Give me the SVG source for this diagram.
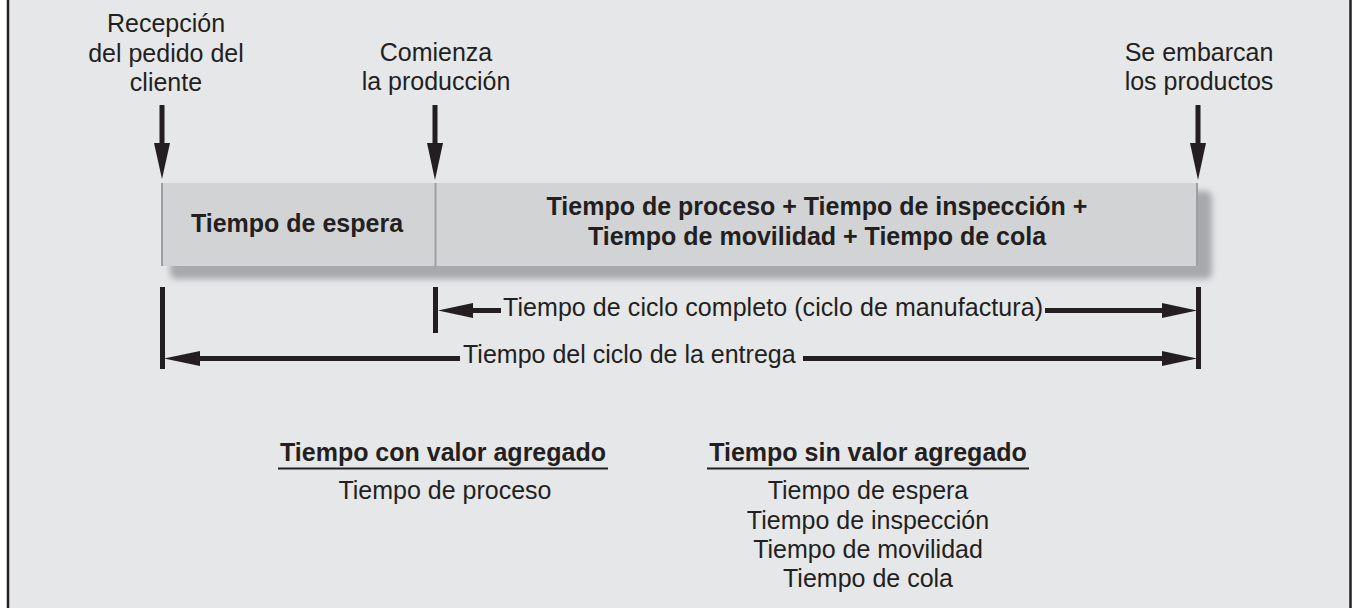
<svg xmlns="http://www.w3.org/2000/svg" width="1353" height="608" viewBox="0 0 1353 608">
<defs>
<style>
text{font-family:"Liberation Sans",Arial,sans-serif;font-size:25px;fill:#231f20}
.b{font-weight:bold}
.m{text-anchor:middle}
.shaft{stroke:#231f20;stroke-width:5;fill:none}
.div{stroke:#9d9fa2;stroke-width:2}
.head{fill:#231f20}
</style>
<filter id="sh" x="-5%" y="-30%" width="110%" height="160%">
<feGaussianBlur stdDeviation="3"/>
</filter>
</defs>
<rect x="0" y="0" width="1353" height="608" fill="#ffffff"/>
<rect x="8" y="0" width="1342" height="608" fill="#e6e7e8"/>
<line x1="8" y1="0" x2="8" y2="608" stroke="#231f20" stroke-width="2.5"/>
<line x1="1350.5" y1="0" x2="1350.5" y2="608" stroke="#231f20" stroke-width="2.5"/>

<g id="bar">
<rect x="170" y="191" width="1042" height="88" rx="6" fill="#a7a9ac" filter="url(#sh)"/>
<rect x="162" y="183" width="1036" height="83" fill="#d1d3d4"/>
<line class="div" x1="162" y1="183" x2="162" y2="266"/>
<line class="div" x1="435.5" y1="183" x2="435.5" y2="266"/>
<line class="div" x1="1197" y1="183" x2="1197" y2="266"/>
</g>
<g id="espera">
<text class="b m" x="297" y="232">Tiempo de espera</text>
</g>
<g id="proceso">
<text class="b m" x="817" y="215">Tiempo de proceso + Tiempo de inspección +</text>
<text class="b m" x="817" y="245">Tiempo de movilidad + Tiempo de cola</text>
</g>

<g id="label-recepcion">
<text class="m" x="166" y="32">Recepción</text>
<text class="m" x="166" y="62">del pedido del</text>
<text class="m" x="166" y="91">cliente</text>
</g>
<g id="label-comienza">
<text class="m" x="436" y="61">Comienza</text>
<text class="m" x="436" y="90">la producción</text>
</g>
<g id="label-embarcan">
<text class="m" x="1199" y="61">Se embarcan</text>
<text class="m" x="1199" y="90">los productos</text>
</g>

<g id="connectors">
<line class="shaft" x1="162" y1="105" x2="162" y2="146"/>
<polygon class="head" points="154,143 170,143 162,179"/>
<line class="shaft" x1="435" y1="105" x2="435" y2="146"/>
<polygon class="head" points="427,143 443,143 435,180"/>
<line class="shaft" x1="1198" y1="105" x2="1198" y2="146"/>
<polygon class="head" points="1190,143 1206,143 1198,180"/>

<line class="shaft" x1="162.5" y1="287" x2="162.5" y2="369"/>
<line class="shaft" x1="435.5" y1="287" x2="435.5" y2="333"/>
<line class="shaft" x1="1198.5" y1="287" x2="1198.5" y2="369"/>

<line class="shaft" x1="470" y1="310.5" x2="501" y2="310.5"/>
<polygon class="head" points="438,310.5 473,303 473,318"/>
<line class="shaft" x1="1045" y1="310.5" x2="1165" y2="310.5"/>
<polygon class="head" points="1197,310.5 1162,303 1162,318"/>

<line class="shaft" x1="196" y1="358.5" x2="460" y2="358.5"/>
<polygon class="head" points="164,358.5 200,351 200,366"/>
<line class="shaft" x1="803" y1="358.5" x2="1165" y2="358.5"/>
<polygon class="head" points="1197,358.5 1162,351 1162,366"/>
</g>
<g id="dim-labels">
<text x="503" y="316" textLength="540" lengthAdjust="spacing">Tiempo de ciclo completo (ciclo de manufactura)</text>
<text x="463" y="363">Tiempo del ciclo de la entrega</text>
</g>

<g id="valor-agregado">
<text class="b m" x="443" y="461">Tiempo con valor agregado</text>
<line x1="278" y1="468.5" x2="608" y2="468.5" stroke="#231f20" stroke-width="2"/>
<text class="m" x="445" y="499">Tiempo de proceso</text>
</g>
<g id="sin-valor-agregado">
<text class="b m" x="868" y="461">Tiempo sin valor agregado</text>
<line x1="707" y1="468.5" x2="1029" y2="468.5" stroke="#231f20" stroke-width="2"/>
<text class="m" x="868" y="499">Tiempo de espera</text>
<text class="m" x="868" y="529">Tiempo de inspección</text>
<text class="m" x="868" y="558">Tiempo de movilidad</text>
<text class="m" x="868" y="587">Tiempo de cola</text>
</g>
</svg>
